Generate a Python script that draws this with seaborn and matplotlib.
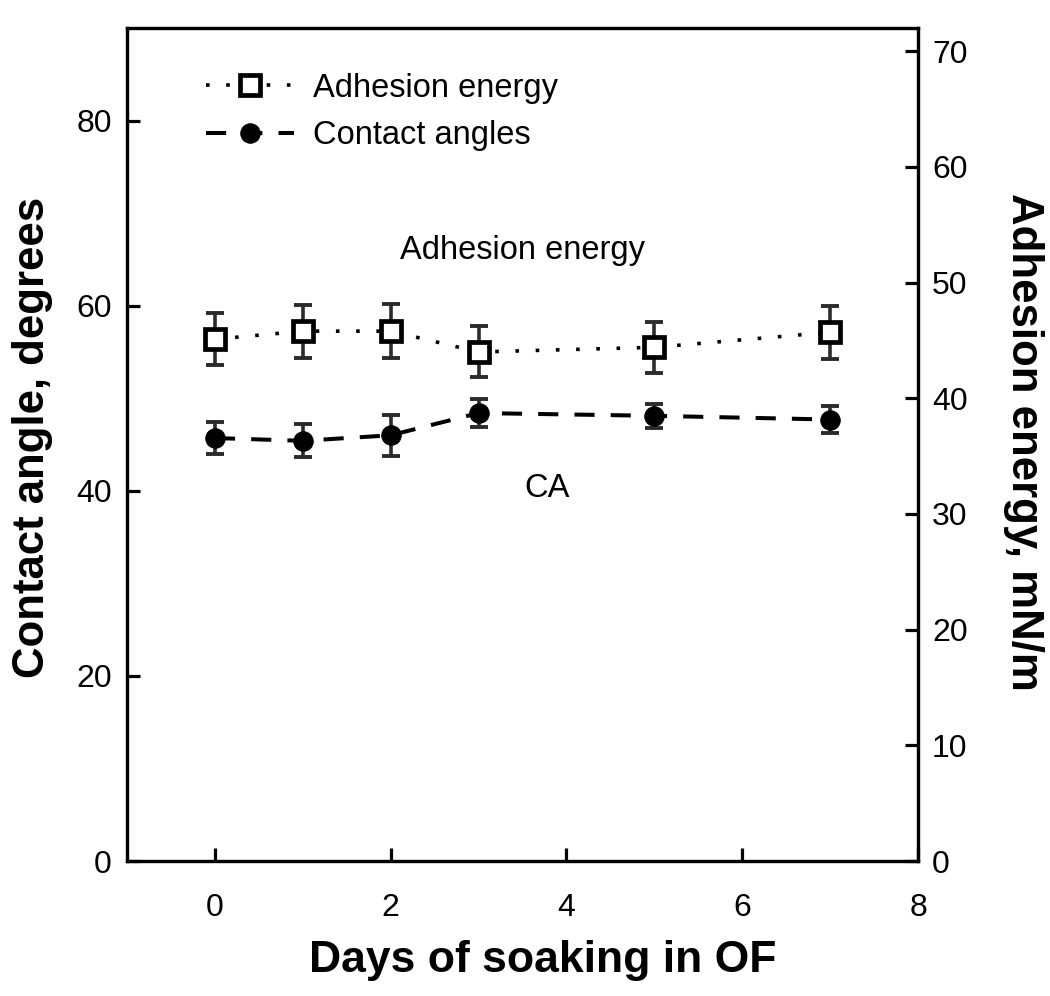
import matplotlib
matplotlib.use('Agg')
import matplotlib.pyplot as plt
import seaborn as sns
import pandas as pd

# valores
days = [0, 1, 2, 3, 5, 7]
contact_angle = [45.7, 45.4, 46.0, 48.4, 48.1, 47.7]
contact_err = [1.7, 1.8, 2.2, 1.5, 1.3, 1.5]
adhesion = [45.1, 45.8, 45.8, 44.0, 44.4, 45.7]
adhesion_err = [2.25, 2.3, 2.35, 2.2, 2.2, 2.3]

x_ticks = [0, 2, 4, 6, 8]
left_ticks = [0, 20, 40, 60, 80]
right_ticks = [0, 10, 20, 30, 40, 50, 60, 70]

df = pd.DataFrame({'Days': days, 'CA': contact_angle, 'CA_err': contact_err,
                   'AE': adhesion, 'AE_err': adhesion_err})

sns.set_style("white")
plt.rcParams['font.family'] = ['Liberation Sans', 'DejaVu Sans']
plt.rcParams['text.color'] = 'black'
plt.rcParams['axes.labelcolor'] = 'black'
plt.rcParams['xtick.color'] = 'black'
plt.rcParams['ytick.color'] = 'black'

fig = plt.figure(figsize=(10.5, 9.96), dpi=100)
ax = fig.add_axes([0.121, 0.1355, 0.7533, 0.8364])
ax2 = ax.twinx()

# barras de erro
err_color = '#2b2b2b'
ax.errorbar(df['Days'], df['CA'], yerr=df['CA_err'], fmt='none', ecolor=err_color,
            elinewidth=2.6, capsize=6.5, capthick=2.8, zorder=2)
ax2.errorbar(df['Days'], df['AE'], yerr=df['AE_err'], fmt='none', ecolor=err_color,
             elinewidth=2.6, capsize=6.5, capthick=2.8, zorder=2)

sns.lineplot(data=df, x='Days', y='CA', ax=ax, color='black', linewidth=2.9,
             linestyle=(0, (5.0, 4.0)), marker='o', markersize=14,
             markerfacecolor='black', markeredgecolor='black', label='Contact angles',
             legend=False, zorder=3)
sns.lineplot(data=df, x='Days', y='AE', ax=ax2, color='black', linewidth=2.6,
             linestyle=(0, (1, 4.6)), marker='s', markersize=14,
             markerfacecolor='white', markeredgecolor='black', markeredgewidth=3.4,
             label='Adhesion energy', legend=False, zorder=3)

ax.set_xlim(-1, 8)
ax.set_ylim(0, 90)
ax2.set_ylim(0, 72)
ax.set_xticks(x_ticks)
ax.set_yticks(left_ticks)
ax2.set_yticks(right_ticks)

for a in (ax, ax2):
    for s in a.spines.values():
        s.set_linewidth(2.3)
        s.set_color('black')
    a.grid(False)

ax.tick_params(axis='x', direction='in', length=9.5, width=2.3, labelsize=23, pad=23,
               top=False, bottom=True)
ax.tick_params(axis='y', direction='in', length=9.5, width=2.3, labelsize=23, pad=11,
               left=True, right=False)
ax2.tick_params(axis='y', direction='in', length=9.5, width=2.3, labelsize=23, pad=10,
                right=True, left=False)

ax.set_xlabel('Days of soaking in OF', fontsize=32, fontweight='bold', va='center')
ax.xaxis.set_label_coords(0.525, -0.119)
ax.set_ylabel('Contact angle, degrees', fontsize=31.5, fontweight='bold', va='center')
ax.yaxis.set_label_coords(-0.12, 0.508)
ax2.set_ylabel('Adhesion energy, mN/m', fontsize=31.5, fontweight='bold',
               rotation=270, va='center')
ax2.yaxis.set_label_coords(1.133, 0.503)

# anotações
ax.text(3.5, 66.0, 'Adhesion energy', fontsize=23.5, ha='center', va='center')
ax.text(3.78, 40.2, 'CA', fontsize=23.5, ha='center', va='center')

# legenda
h1 = ax2.get_lines()[-1]
h2 = ax.get_lines()[-1]
ax.legend([h1, h2], ['Adhesion energy', 'Contact angles'], loc='upper left',
          bbox_to_anchor=(0.083, 0.962), frameon=False, fontsize=23.5,
          handlelength=2.7, handletextpad=0.6, labelspacing=0.5,
          borderaxespad=0)

fig.savefig('out.png', dpi=100, facecolor='white')
